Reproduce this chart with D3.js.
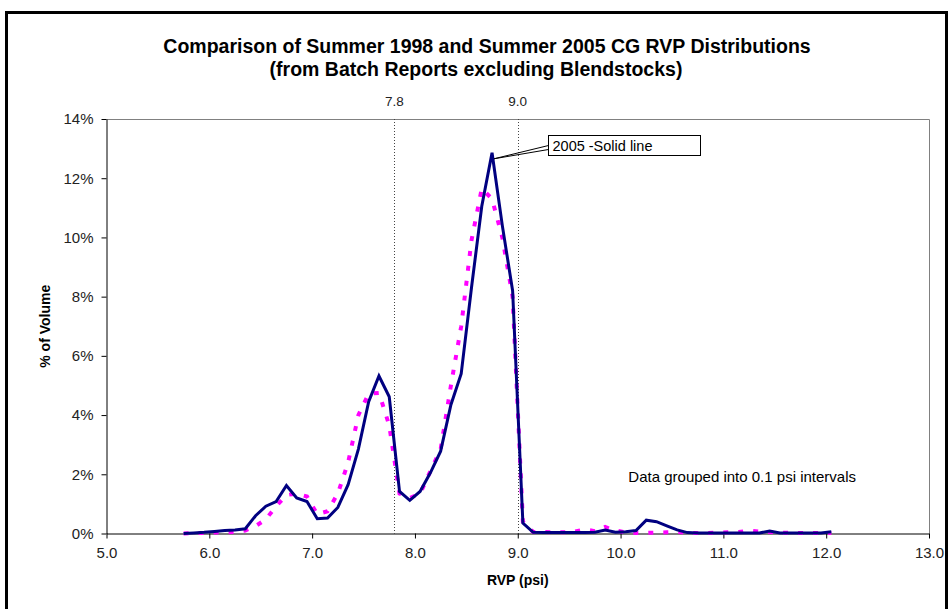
<!DOCTYPE html>
<html><head><meta charset="utf-8">
<script src="https://cdn.jsdelivr.net/npm/d3@7"></script>
<style>
body{margin:0;background:#fff}
svg{display:block}
text{font-family:"Liberation Sans",Arial,sans-serif}
</style>
</head><body><svg id="c" width="951" height="609"></svg>
<script>
// RVP interval midpoints (0.1 psi bins)
const rvp = [5.75,5.85,5.95,6.05,6.15,6.25,6.35,6.45,6.55,6.65,6.75,6.85,6.95,7.05,7.15,7.25,7.35,7.45,7.55,7.65,7.75,7.85,7.95,8.05,8.15,8.25,8.35,8.45,8.55,8.65,8.75,8.85,8.95,9.05,9.15,9.25,9.35,9.45,9.55,9.65,9.75,9.85,9.95,10.05,10.15,10.25,10.35,10.45,10.55,10.65,10.75,10.85,10.95,11.05,11.15,11.25,11.35,11.45,11.55,11.65,11.75,11.85,11.95,12.05];
// Summer 2005 (% of volume) - solid line
const vol2005 = [0.00,0.02,0.04,0.07,0.10,0.12,0.16,0.60,0.92,1.08,1.62,1.20,1.08,0.50,0.52,0.88,1.65,2.85,4.45,5.32,4.62,1.42,1.12,1.42,2.05,2.78,4.35,5.40,8.30,11.05,12.86,10.40,8.20,0.35,0.04,0.03,0.03,0.03,0.03,0.03,0.04,0.12,0.04,0.06,0.10,0.45,0.40,0.26,0.12,0.03,0.02,0.02,0.02,0.02,0.02,0.02,0.02,0.08,0.02,0.02,0.02,0.02,0.02,0.06];
// Summer 1998 (% of volume) - dotted line
const vol1998 = [0.00,0.01,0.02,0.03,0.04,0.05,0.10,0.25,0.48,0.92,1.30,1.35,1.25,0.65,0.75,1.35,2.40,4.00,4.72,4.75,3.65,1.35,1.20,1.35,2.10,2.85,5.00,7.00,9.90,11.65,11.30,10.00,8.00,0.40,0.05,0.05,0.04,0.04,0.06,0.14,0.08,0.22,0.10,0.04,0.02,0.02,0.03,0.04,0.05,0.02,0.02,0.02,0.03,0.04,0.05,0.10,0.06,0.05,0.03,0.02,0.02,0.02,0.02,0.02];
const xTicks = [5,6,7,8,9,10,11,12,13];
const yTicks = [0,2,4,6,8,10,12,14];
const refLines = [7.8, 9.0];
const titleLines = ["Comparison of Summer 1998 and Summer 2005 CG RVP Distributions","(from Batch Reports excluding Blendstocks)"];
const xTitle = "RVP (psi)";
const yTitle = "% of Volume";
const calloutText = "2005 -Solid line";
const noteText = "Data grouped into 0.1 psi intervals";

const svg = d3.select('#c');
const L = 106.5, R = 929, T = 119, B = 533.5;
const x = d3.scaleLinear().domain([5,13]).range([L,R]);
const y = d3.scaleLinear().domain([0,14]).range([B,T]);

svg.append('rect').attr('width',951).attr('height',609).attr('fill','#fff');
// outer frame
svg.append('rect').attr('x',6.5).attr('y',12.5).attr('width',940).attr('height',640)
  .attr('fill','none').attr('stroke','#000').attr('stroke-width',3);

// titles
svg.append('text').attr('x',487).attr('y',53).attr('text-anchor','middle')
  .attr('font-size',19.5).attr('font-weight','bold').attr('fill','#000').text(titleLines[0]);
svg.append('text').attr('x',476).attr('y',76).attr('text-anchor','middle')
  .attr('font-size',19.5).attr('font-weight','bold').attr('fill','#000').text(titleLines[1]);

// plot frame top/right (gray)
svg.append('path').attr('d',`M${L},${T+0.5}H${R+0.5}V${B}`).attr('fill','none').attr('stroke','#808080').attr('stroke-width',1);

// reference dotted lines
refLines.forEach(v=>{
  svg.append('line').attr('x1',Math.round(x(v))+0.5).attr('x2',Math.round(x(v))+0.5).attr('y1',T).attr('y2',B)
    .attr('stroke','#444').attr('stroke-width',1).attr('stroke-dasharray','1,2');
  svg.append('text').attr('x',x(v)).attr('y',106).attr('text-anchor','middle')
    .attr('font-size',13.5).attr('fill','#222').text(v.toFixed(1));
});

// axes
const xAxis = svg.append('g').attr('transform',`translate(0,${B})`)
  .call(d3.axisBottom(x).tickValues(xTicks).tickFormat(d3.format('.1f')).tickSize(5).tickSizeOuter(0).tickPadding(9));
const yAxis = svg.append('g').attr('transform',`translate(${L},0)`)
  .call(d3.axisLeft(y).tickValues(yTicks).tickFormat(d=>d+'%').tickSize(5).tickSizeOuter(0).tickPadding(8));
[xAxis,yAxis].forEach(g=>{
  g.selectAll('text').attr('font-size',15).attr('fill','#222').attr('font-family','"Liberation Sans",Arial,sans-serif');
  g.selectAll('line').attr('stroke','#000');
  g.select('.domain').attr('stroke','#000');
});

// series
const pts = (vals)=>rvp.map((r,i)=>[r,vals[i]]);
const line = d3.line().x(d=>x(d[0])).y(d=>y(d[1]));
svg.append('path').datum(pts(vol1998)).attr('d',line).attr('fill','none')
  .attr('stroke','#ff00ff').attr('stroke-width',4).attr('stroke-dasharray','5,10');
svg.append('path').datum(pts(vol2005)).attr('d',line).attr('fill','none')
  .attr('stroke','#000080').attr('stroke-width',3).attr('stroke-linejoin','miter');

// axis titles
svg.append('text').attr('x',(L+R)/2).attr('y',585).attr('text-anchor','middle')
  .attr('font-size',14).attr('font-weight','bold').attr('fill','#000').text(xTitle);
svg.append('text').attr('transform',`translate(50,${(T+B)/2}) rotate(-90)`).attr('text-anchor','middle')
  .attr('font-size',14).attr('font-weight','bold').attr('fill','#000').text(yTitle);

// callout
const peakI = vol2005.indexOf(d3.max(vol2005));
const px = x(rvp[peakI]), py = y(vol2005[peakI]);
const bx = 548.5, by = 135.5, bw = 152, bh = 20;
svg.append('path').attr('d',`M${bx},${by+10}L${px+2},${py+6}L${bx},${by+14}`).attr('fill','none').attr('stroke','#000').attr('stroke-width',1);
svg.append('rect').attr('x',bx).attr('y',by).attr('width',bw).attr('height',bh).attr('fill','#fff').attr('stroke','#000').attr('stroke-width',1);
svg.append('text').attr('x',bx+4).attr('y',by+15.5).attr('font-size',14.5).attr('fill','#000').text(calloutText);

// note
svg.append('text').attr('x',856).attr('y',482).attr('text-anchor','end').attr('font-size',15).attr('fill','#000').text(noteText);
</script></body></html>
